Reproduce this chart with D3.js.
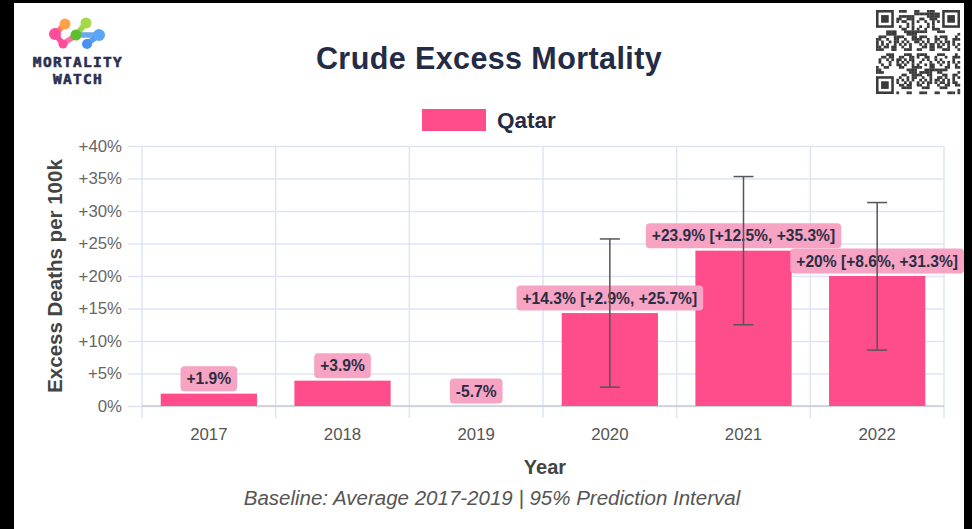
<!DOCTYPE html>
<html>
<head>
<meta charset="utf-8">
<script src="https://cdn.jsdelivr.net/npm/d3@7/dist/d3.min.js"></script>
<style>
  html, body { margin: 0; padding: 0; background: #000; }
  svg { display: block; }
</style>
</head>
<body>
<svg id="chart" width="972" height="529"></svg>
<script>
// ---- data ----
const years = ["2017", "2018", "2019", "2020", "2021", "2022"];
const excess = [1.9, 3.9, -5.7, 14.3, 23.9, 20];
const lower = [null, null, null, 2.9, 12.5, 8.6];
const upper = [null, null, null, 25.7, 35.3, 31.3];
const yTicks = [0, 5, 10, 15, 20, 25, 30, 35, 40];
const country = "Qatar";

const svg = d3.select("#chart");
const W = 972, H = 529;
const pink = "#ff4d8c";
const navy = "#232b45";
const font = "'Liberation Sans', Arial, Helvetica, sans-serif";

// white card
svg.append("rect").attr("x", 14).attr("y", 3).attr("width", 950).attr("height", H - 3).attr("fill", "#fff");

// ---- logo ----
const logo = svg.append("g");
const links = [[65,24,55,34],[55,34,63,44],[86,23,76,35],[76,35,99,35],[99,35,87,44],[63,44,76,35]];
const linkCols = ["#ff7a6a","#ff4d9a","#9ed64a","#6aa8f0","#5a9cf0","#ff6fa8"];
links.forEach((l, i) => logo.append("line").attr("x1", l[0]).attr("y1", l[1]).attr("x2", l[2]).attr("y2", l[3])
  .attr("stroke", linkCols[i]).attr("stroke-width", 5.5).attr("stroke-linecap", "round"));
const nodes = [[65,24,"#ffa24a",5.5],[86,23,"#a6d84a",5.5],[55,34,"#ff4d9a",6],[63,44,"#ff4d9a",4.5],[76,35,"#5cc02e",5.5],[99,35,"#5aa7f5",6],[87,44,"#4a90f0",5]];
nodes.forEach(n => logo.append("circle").attr("cx", n[0]).attr("cy", n[1]).attr("r", n[3]).attr("fill", n[2]));
logo.append("text").attr("x", 78).attr("y", 67).attr("text-anchor", "middle")
  .attr("font-family", "'DejaVu Sans Mono', monospace").attr("font-weight", "bold").attr("font-size", 14.5)
  .attr("letter-spacing", 1.3).attr("stroke", "#2b3050").attr("stroke-width", 0.6).attr("fill", "#2b3050").text("MORTALITY");
logo.append("text").attr("x", 78).attr("y", 84).attr("text-anchor", "middle")
  .attr("font-family", "'DejaVu Sans Mono', monospace").attr("font-weight", "bold").attr("font-size", 14.5)
  .attr("letter-spacing", 1.3).attr("stroke", "#2b3050").attr("stroke-width", 0.6).attr("fill", "#2b3050").text("WATCH");

// ---- QR-like decoration ----
const qr = svg.append("g").attr("transform", "translate(876,10)");
const N = 33, cs = 84 / N;
for (let i = 0; i < N; i++) for (let j = 0; j < N; j++) {
  const inFinder = (a, b) => a < 8 && b < 8;
  if (inFinder(i, j) || inFinder(N - 1 - i, j) || inFinder(i, N - 1 - j)) continue;
  if (((i * 31 + j * 17 + i * j * 7 + (i ^ j) * 3) % 11) < 5)
    qr.append("rect").attr("x", j * cs).attr("y", i * cs).attr("width", cs + 0.2).attr("height", cs + 0.2).attr("fill", "#3a3a3a");
}
[[0,0],[N-7,0],[0,N-7]].forEach(([a,b]) => {
  qr.append("rect").attr("x", a*cs + cs/2).attr("y", b*cs + cs/2).attr("width", 6*cs).attr("height", 6*cs).attr("fill", "none").attr("stroke", "#3a3a3a").attr("stroke-width", cs);
  qr.append("rect").attr("x", (a+2)*cs).attr("y", (b+2)*cs).attr("width", 3*cs).attr("height", 3*cs).attr("fill", "#3a3a3a");
});

// ---- title ----
svg.append("text").attr("x", 489).attr("y", 69).attr("text-anchor", "middle")
  .attr("font-family", font).attr("font-weight", "bold").attr("font-size", 30.5).attr("letter-spacing", 0.4).attr("fill", navy)
  .text("Crude Excess Mortality");

// ---- legend ----
svg.append("rect").attr("x", 422).attr("y", 109).attr("width", 64).attr("height", 22).attr("fill", pink);
svg.append("text").attr("x", 497).attr("y", 128).attr("font-family", font).attr("font-weight", "bold")
  .attr("font-size", 22.5).attr("fill", navy).text(country);

// ---- scales ----
const pL = 142, pR = 944, pT = 146, pB = 406;
const x = d3.scaleBand().domain(years).range([pL, pR]).paddingInner(0.28).paddingOuter(0.14);
const xb = d3.scaleBand().domain(years).range([pL, pR]);
const y = d3.scaleLinear().domain([0, 40]).range([pB, pT]);

const grid = "#dfe3f5";
// horizontal grid
const yAxis = d3.axisLeft(y).tickValues(yTicks).tickSize(0).tickFormat(d => d === 0 ? "0%" : "+" + d + "%").tickPadding(6);
const gy = svg.append("g").attr("transform", `translate(${pL - 14},0)`).call(yAxis);
gy.select(".domain").remove();
gy.selectAll(".tick line").attr("stroke", grid).attr("stroke-width", 1.5)
  .attr("x1", 0).attr("x2", pR - pL + 14);
gy.selectAll(".tick text").attr("font-family", font).attr("font-size", 16.8).attr("fill", "#666");

// vertical grid lines at band boundaries
const bounds = years.map(d => xb(d)).concat([pR]);
svg.append("g").selectAll("line").data(bounds).join("line")
  .attr("x1", d => d).attr("x2", d => d).attr("y1", pT).attr("y2", pB + 12)
  .attr("stroke", grid).attr("stroke-width", 1.5);
// zero line
svg.append("line").attr("x1", pL).attr("x2", pR).attr("y1", y(0)).attr("y2", y(0)).attr("stroke", "#c9cbd6").attr("stroke-width", 1.5);

// x axis labels
const xAxis = d3.axisBottom(xb).tickSize(0).tickPadding(22);
const gx = svg.append("g").attr("transform", `translate(0,${pB})`).call(xAxis);
gx.select(".domain").remove();
gx.selectAll(".tick text").attr("font-family", font).attr("font-size", 16.8).attr("fill", "#555");

// axis titles
svg.append("text").attr("transform", `translate(62,276) rotate(-90)`).attr("text-anchor", "middle")
  .attr("font-family", font).attr("font-weight", "bold").attr("font-size", 20.5).attr("fill", "#444")
  .text("Excess Deaths per 100k");
svg.append("text").attr("x", 545).attr("y", 474).attr("text-anchor", "middle")
  .attr("font-family", font).attr("font-weight", "bold").attr("font-size", 20).attr("fill", "#444").text("Year");
svg.append("text").attr("x", 492).attr("y", 505).attr("text-anchor", "middle")
  .attr("font-family", font).attr("font-style", "italic").attr("font-size", 20.5).attr("fill", "#555")
  .text("Baseline: Average 2017-2019 | 95% Prediction Interval");

// ---- bars ----
const data = years.map((d, i) => ({ year: d, v: excess[i], lo: lower[i], hi: upper[i] }));
svg.append("g").selectAll("rect").data(data.filter(d => d.v > 0)).join("rect")
  .attr("x", d => x(d.year)).attr("width", x.bandwidth())
  .attr("y", d => y(d.v)).attr("height", d => y(0) - y(d.v)).attr("fill", pink);

// ---- labels ----
const fmt = v => (v > 0 ? "+" : "") + v + "%";
const lab = svg.append("g");
data.forEach(d => {
  const txt = d.lo == null ? fmt(d.v) : `${fmt(d.v)} [${fmt(d.lo)}, ${fmt(d.hi)}]`;
  const cx = xb(d.year) + xb.bandwidth() / 2;
  const bot = Math.min(y(d.v), y(0)) - 2.5;
  const t = lab.append("text").attr("x", cx).attr("y", bot - 7).attr("text-anchor", "middle")
    .attr("font-family", font).attr("font-weight", "bold").attr("font-size", 15.6).attr("fill", "#2b2d42").text(txt);
  const w = t.node().getComputedTextLength() + 12;
  lab.insert("rect", "text").attr("x", cx - w / 2).attr("y", bot - 25).attr("width", w).attr("height", 25)
    .attr("rx", 4).attr("fill", "#f7a3c4");
});
lab.selectAll("rect").lower();

// ---- error bars ----
const eb = svg.append("g").attr("stroke", "#555").attr("stroke-width", 1.5);
data.filter(d => d.lo != null).forEach(d => {
  const cx = xb(d.year) + xb.bandwidth() / 2;
  eb.append("line").attr("x1", cx).attr("x2", cx).attr("y1", y(d.lo)).attr("y2", y(d.hi));
  eb.append("line").attr("x1", cx - 10).attr("x2", cx + 10).attr("y1", y(d.lo)).attr("y2", y(d.lo));
  eb.append("line").attr("x1", cx - 10).attr("x2", cx + 10).attr("y1", y(d.hi)).attr("y2", y(d.hi));
});
</script>
</body>
</html>
